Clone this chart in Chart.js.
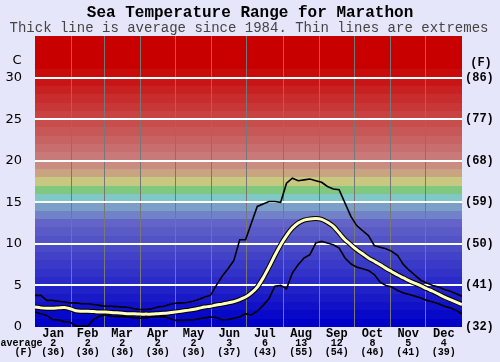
<!DOCTYPE html>
<html><head><meta charset="utf-8">
<script src="https://cdn.jsdelivr.net/npm/chart.js@4/dist/chart.umd.min.js"></script>
<style>
html,body{margin:0;padding:0;background:#e6e6fa;}
#wrap{position:relative;width:500px;height:362px;}
</style></head>
<body><div id="wrap"><canvas id="c" width="500" height="362"></canvas></div>
<script>
const title = "Sea Temperature Range for Marathon";
const subtitle = "Thick line is average since 1984. Thin lines are extremes";
const months = ["Jan","Feb","Mar","Apr","May","Jun","Jul","Aug","Sep","Oct","Nov","Dec"];
const monthStartDays = [0,31,59,90,120,151,181,212,243,273,304,334,365];
const monthAvgC = [2,2,2,2,2,3,6,13,12,8,5,4];
const monthAvgF = [36,36,36,36,36,37,43,55,54,46,41,39];
const yTicksC = [0,5,10,15,20,25,30];
const yTicksF = [32,41,50,59,68,77,86];
const days = [0,5,10,15,20,25,30,35,40,45,50,55,60,65,70,75,80,85,90,95,100,105,110,115,120,125,130,135,140,145,150,155,160,165,170,175,180,185,190,195,200,205,210,215,220,225,230,235,240,245,250,255,260,265,270,275,280,285,290,295,300,305,310,315,320,325,330,335,340,345,350,355,360,365];
const avgTemp = [2.4,2.3,2.25,2.25,2.3,2.35,2.2,1.95,1.9,1.9,1.85,1.8,1.8,1.75,1.7,1.65,1.6,1.6,1.55,1.55,1.55,1.6,1.65,1.7,1.8,1.9,2.0,2.1,2.25,2.4,2.5,2.65,2.75,2.9,3.05,3.3,3.6,4.1,4.8,5.9,7.2,8.6,9.9,11.0,11.9,12.5,12.85,13.0,13.05,12.95,12.6,12.1,11.3,10.5,9.9,9.3,8.8,8.3,7.9,7.5,7.05,6.65,6.25,5.9,5.55,5.25,4.95,4.6,4.3,3.95,3.6,3.3,3.0,2.7];
const maxTemp = [3.8,3.8,3.2,3.2,3.1,3.0,2.9,2.9,2.8,2.8,2.7,2.6,2.5,2.5,2.45,2.4,2.35,2.2,2.1,2.1,2.2,2.4,2.5,2.7,2.85,2.9,2.95,3.1,3.3,3.6,3.8,5.0,6.1,7.0,8.0,10.5,10.5,12.5,14.5,14.8,15.1,15.1,15.0,17.3,17.9,17.6,17.7,17.8,17.6,17.4,16.9,16.6,16.5,14.9,13.3,12.2,11.6,11.0,9.8,9.6,9.4,9.1,8.6,7.5,6.8,6.2,5.6,5.3,5.0,4.8,4.5,4.3,4.0,3.7];
const minTemp = [1.8,1.6,1.4,0.9,0.85,0.65,0.6,0.1,0.1,0.1,0.9,1.3,1.45,1.3,1.25,1.25,1.2,1.1,1.05,1.1,1.2,1.25,1.25,1.05,0.8,0.8,0.85,0.85,1.0,1.1,1.2,1.15,0.85,0.9,1.05,1.2,1.6,1.45,1.9,2.6,3.4,4.9,5.0,4.6,6.5,7.5,8.3,8.7,10.1,10.3,10.1,9.9,9.5,8.3,7.6,7.2,7.0,6.8,6.3,5.4,5.0,4.8,4.4,4.1,3.9,3.7,3.5,3.2,3.0,2.8,2.5,2.3,2.0,1.6];

function bandColor(v){
  if (v >= 31) return 'rgb(200,0,0)';
  if (v >= 20) { const g = Math.round((31 - v) * 11); return `rgb(200,${g},${g})`; }
  if (v === 19) return 'rgb(200,140,128)';
  if (v === 18) return 'rgb(200,165,128)';
  if (v === 17) return 'rgb(200,200,128)';
  if (v === 16) return 'rgb(128,200,128)';
  if (v === 15) return 'rgb(128,200,200)';
  if (v === 14) return 'rgb(122,160,200)';
  if (v === 13) return 'rgb(114,130,200)';
  const g = Math.round(v * 8.3);
  return `rgb(${g},${g},200)`;
}

const pts = arr => days.map((d,i)=>({x:d,y:arr[i]}));
const MONO = '"Liberation Mono","DejaVu Sans Mono",monospace';

const bgPlugin = {
  id:'bg',
  beforeDraw(chart){
    const {ctx, chartArea:a, scales} = chart;
    const y = scales.y;
    ctx.save();
    for (let v=0; v<35; v++){
      const top = y.getPixelForValue(v+1), bot = y.getPixelForValue(v);
      ctx.fillStyle = bandColor(v);
      ctx.fillRect(a.left, Math.round(top), a.right-a.left, Math.round(bot)-Math.round(top));
    }
    ctx.restore();
  },
  afterDraw(chart){
    const {ctx, scales} = chart;
    const x = scales.x;
    ctx.save();
    ctx.fillStyle = '#000';
    ctx.textAlign = 'center'; ctx.textBaseline = 'middle';
    ctx.font = 'bold 16px ' + MONO;
    ctx.fillText(title, 250, 13);
    ctx.font = '14px ' + MONO;
    ctx.fillStyle = '#444';
    ctx.fillText(subtitle, 249, 28.5);
    ctx.fillStyle = '#000';
    ctx.font = '13px "DejaVu Sans", sans-serif';
    ctx.fillText('C', 17, 61);
    ctx.font = 'bold 12px ' + MONO;
    ctx.fillText('(F)', 481, 63);
    for (let i=0;i<12;i++){
      const mid = (monthStartDays[i]+monthStartDays[i+1])/2;
      const px = x.getPixelForValue(mid);
      ctx.font = 'bold 12px ' + MONO;
      ctx.fillText(months[i], px, 334);
      ctx.font = 'bold 10px ' + MONO;
      ctx.fillText(String(monthAvgC[i]), px, 343);
      ctx.fillText('(' + monthAvgF[i] + ')', px, 352.5);
    }
    ctx.font = 'bold 10px ' + MONO;
    ctx.fillText('average', 21.5, 343);
    ctx.fillText('(F)', 23.5, 352.5);
    ctx.restore();
  }
};

new Chart(document.getElementById('c'), {
  type:'line',
  data:{datasets:[
    {data:pts(avgTemp), borderColor:'#ffffc0', borderWidth:3, pointRadius:0, tension:0.3, fill:false},
    {data:pts(avgTemp), borderColor:'#000', borderWidth:5, pointRadius:0, tension:0.3, fill:false},
    {data:pts(maxTemp), borderColor:'#000', borderWidth:1.6, pointRadius:0, tension:0, fill:false},
    {data:pts(minTemp), borderColor:'#000', borderWidth:1.6, pointRadius:0, tension:0, fill:false}
  ]},
  options:{
    responsive:false, animation:false, maintainAspectRatio:false,
    layout:{padding:{top:36,bottom:0,left:0,right:0}},
    plugins:{legend:{display:false}, tooltip:{enabled:false}},
    scales:{
      x:{type:'linear', min:0, max:365,
        afterBuildTicks(s){ s.ticks = monthStartDays.map(v=>({value:v})); },
        afterFit(s){ s.height = 35; },
        ticks:{display:false},
        grid:{color:c=> (c.tick && c.tick.value>0 && c.tick.value<365) ? '#777777' : 'rgba(0,0,0,0)', lineWidth:1, drawTicks:false},
        border:{display:false}
      },
      y:{position:'left', min:0, max:35,
        afterBuildTicks(s){ s.ticks = yTicksC.map(v=>({value:v})); },
        afterFit(s){ s.width = 35; },
        ticks:{color:'#000', padding:13, font:{family:'"DejaVu Sans", sans-serif', size:13}},
        grid:{drawTicks:false, lineWidth:2, color:c=> (c.tick && c.tick.value>0) ? '#ffffff' : 'rgba(0,0,0,0)'},
        border:{display:false}
      },
      yF:{position:'right', min:0, max:35,
        afterBuildTicks(s){ s.ticks = yTicksC.map(v=>({value:v})); },
        afterFit(s){ s.width = 38; },
        ticks:{color:'#000', padding:3, font:{family:MONO, size:12, weight:'bold'},
          callback:(v)=>'(' + yTicksF[yTicksC.indexOf(v)] + ')'},
        grid:{display:false, drawTicks:false},
        border:{display:false}
      }
    }
  },
  plugins:[bgPlugin]
});
</script>
</body></html>
